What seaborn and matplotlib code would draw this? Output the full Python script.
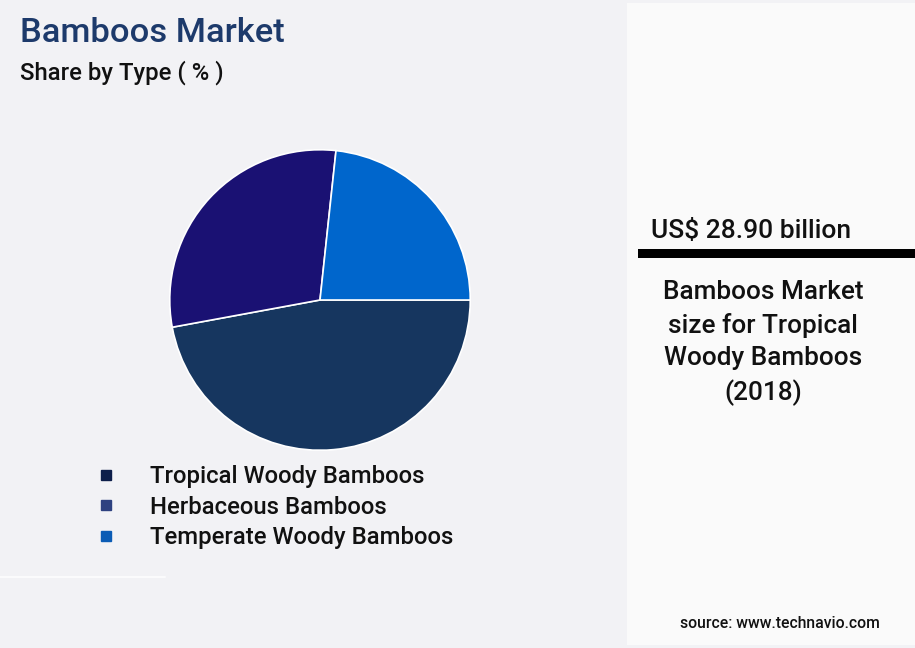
import matplotlib.pyplot as plt
import seaborn as sns
from matplotlib.lines import Line2D
from matplotlib.patches import Rectangle

sns.set_theme(style="white")
plt.rcParams["font.family"] = ["Roboto", "DejaVu Sans"]
plt.rcParams["font.weight"] = "medium"

W, H = 915, 648

types = ["Tropical Woody Bamboos", "Herbaceous Bamboos", "Temperate Woody Bamboos"]
shares = [47.1, 29.6, 23.3]
pie_colors = ["#16365f", "#1a1173", "#0066cc"]
legend_colors = ["#0d1e4a", "#2e4180", "#0b5cb5"]

market_value = "US$ 28.90 billion"
market_note = "Bamboos Market\nsize for Tropical\nWoody Bamboos\n(2018)"


def fx(x):
    return x / W


def fy(y):
    return 1 - y / H


fig = plt.figure(figsize=(W / 100, H / 100), dpi=100, facecolor="#f2f2f5")

# right info panel
fig.patches.append(Rectangle((fx(627), fy(645)), fx(288), 642 / H, transform=fig.transFigure,
                             facecolor="#fafafa", edgecolor="none", zorder=0))
fig.patches.append(Rectangle((fx(638), fy(258)), fx(277), 9 / H, transform=fig.transFigure,
                             facecolor="black", edgecolor="none", zorder=1))
fig.add_artist(Line2D([0, fx(165)], [fy(577), fy(577)], color="#fbfbfc", lw=1.5))

# pie
ax = fig.add_axes([fx(169), fy(451), fx(302), 302 / H])
ax.pie(shares, colors=pie_colors, startangle=0, counterclock=False, radius=1,
       wedgeprops=dict(edgecolor="white", linewidth=1.2))
ax.set_xlim(-1.005, 1.005)
ax.set_ylim(-1.005, 1.005)
ax.set_aspect("equal")
ax.axis("off")

# legend
handles = [Line2D([], [], marker="s", linestyle="none", markersize=7.5,
                  markerfacecolor=c, markeredgecolor=c) for c in legend_colors]
fig.legend(handles, types, loc="upper left", bbox_to_anchor=(fx(80), fy(453)),
           frameon=False, fontsize=17.2, handletextpad=1.25, labelspacing=0.32,
           borderpad=0, handlelength=1.2, labelcolor="#111111")

# titles
fig.text(fx(20), fy(33), "Bamboos Market", fontsize=24.8, fontweight="medium",
         color="#1d3a6b", va="center", ha="left")
fig.text(fx(20), fy(73), "Share by Type ( % )", fontsize=17.2, color="#111111",
         va="center", ha="left")

# right panel text
fig.text(fx(751), fy(231), market_value, fontsize=19, color="#111111",
         ha="center", va="center")
fig.text(fx(763), fy(343), market_note, fontsize=18.8, color="#111111",
         ha="center", va="center", linespacing=1.45)
fig.text(fx(780), fy(624), "source: www.technavio.com", fontsize=11.3, color="#111111",
         ha="center", va="center")

fig.savefig("out.png", dpi=100, facecolor=fig.get_facecolor())
